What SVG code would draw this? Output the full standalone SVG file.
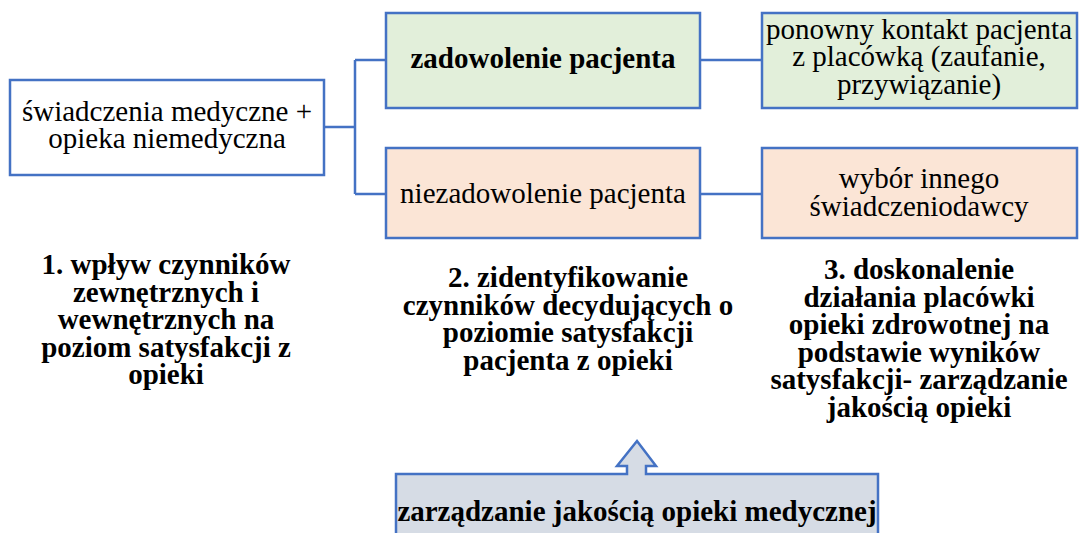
<svg xmlns="http://www.w3.org/2000/svg" width="1080" height="533" viewBox="0 0 1080 533">
<style>
text{font-size:29px;fill:#000;text-anchor:middle}
.b{font-weight:bold}
.box{stroke:#4472C4;stroke-width:2.5}
.w{fill:#fff}.g{fill:#E2EFDA}.o{fill:#FBE5D6}.s{fill:#D6DCE5}
.ln{fill:none;stroke:#4472C4;stroke-width:2.5}
</style>
<rect width="1080" height="533" fill="#fff"/>
<g id="connectors">
<path class="ln" d="M324,127H355M355,60V194M355,60H386M355,194H386M700,60H762M700,194H762"/>
</g>
<g id="n1"><rect class="box w" x="10" y="80" width="314" height="95"/>
<text font-family="Liberation Serif" x="167" y="121">świadczenia medyczne +</text><text font-family="Liberation Serif" x="167" y="148">opieka niemedyczna</text></g>
<g id="n2"><rect class="box g" x="386" y="13" width="314" height="95"/>
<text class="b" font-family="Liberation Serif" x="543" y="68">zadowolenie pacjenta</text></g>
<g id="n3"><rect class="box o" x="386" y="148" width="314" height="90"/>
<text font-family="Liberation Serif" x="543" y="203">niezadowolenie pacjenta</text></g>
<g id="n4"><rect class="box g" x="762" y="13" width="315" height="95"/>
<text font-family="Liberation Serif" x="919" y="39">ponowny kontakt pacjenta</text><text font-family="Liberation Serif" x="919" y="66">z placówką (zaufanie,</text><text font-family="Liberation Serif" x="919" y="94">przywiązanie)</text></g>
<g id="n5"><rect class="box o" x="762" y="148" width="315" height="90"/>
<text font-family="Liberation Serif" x="919" y="188">wybór innego</text><text font-family="Liberation Serif" x="919" y="216">świadczeniodawcy</text></g>
<g id="t1">
<text class="b" font-family="Liberation Serif" x="166" y="274">1. wpływ czynników</text>
<text class="b" font-family="Liberation Serif" x="166" y="302">zewnętrznych i</text>
<text class="b" font-family="Liberation Serif" x="166" y="329">wewnętrznych na</text>
<text class="b" font-family="Liberation Serif" x="166" y="357">poziom satysfakcji z</text>
<text class="b" font-family="Liberation Serif" x="166" y="384">opieki</text></g>
<g id="t2">
<text class="b" font-family="Liberation Serif" x="568" y="287">2. zidentyfikowanie</text>
<text class="b" font-family="Liberation Serif" x="568" y="315">czynników decydujących o</text>
<text class="b" font-family="Liberation Serif" x="568" y="342">poziomie satysfakcji</text>
<text class="b" font-family="Liberation Serif" x="568" y="370">pacjenta z opieki</text></g>
<g id="t3">
<text class="b" font-family="Liberation Serif" x="919" y="279">3. doskonalenie</text>
<text class="b" font-family="Liberation Serif" x="919" y="307">działania placówki</text>
<text class="b" font-family="Liberation Serif" x="919" y="334">opieki zdrowotnej na</text>
<text class="b" font-family="Liberation Serif" x="919" y="362">podstawie wyników</text>
<text class="b" font-family="Liberation Serif" x="919" y="389">satysfakcji- zarządzanie</text>
<text class="b" font-family="Liberation Serif" x="919" y="417">jakością opieki</text></g>
<g id="n6"><path class="box s" d="M396,540V474H627V466H617L637,441L656,466H646V474H878V540Z"/>
<text class="b" font-family="Liberation Serif" x="637" y="521">zarządzanie jakością opieki medycznej</text></g>
</svg>
